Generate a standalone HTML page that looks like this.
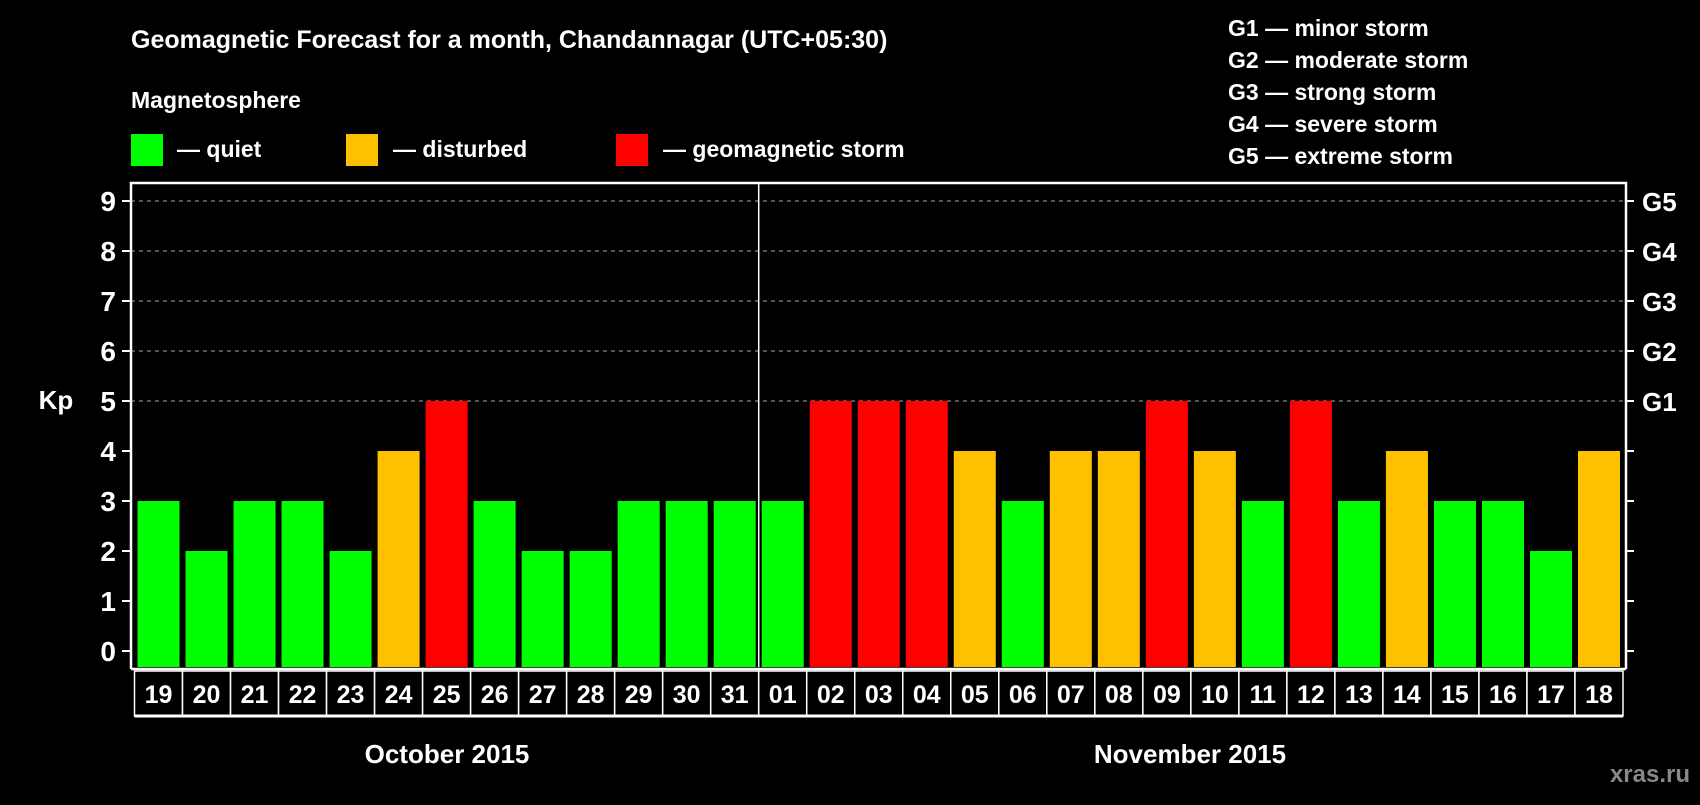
<!DOCTYPE html>
<html><head><meta charset="utf-8"><style>
body{margin:0;background:#000;width:1700px;height:800px;overflow:hidden}
svg text{font-family:"Liberation Sans",Arial,sans-serif;font-weight:bold;fill:#fff}
</style></head><body>
<svg id="c" width="1700" height="800" xmlns="http://www.w3.org/2000/svg">
<text x="131" y="48" font-size="25">Geomagnetic Forecast for a month, Chandannagar (UTC+05:30)</text>
<text x="131" y="108" font-size="23">Magnetosphere</text>
<rect x="131" y="134" width="32" height="32" fill="#00ff00"/>
<text x="177" y="157" font-size="23">— quiet</text>
<rect x="346" y="134" width="32" height="32" fill="#ffc000"/>
<text x="393" y="157" font-size="23">— disturbed</text>
<rect x="616" y="134" width="32" height="32" fill="#ff0000"/>
<text x="663" y="157" font-size="23">— geomagnetic storm</text>
<g font-size="23">
<text x="1228" y="36">G1 — minor storm</text>
<text x="1228" y="68">G2 — moderate storm</text>
<text x="1228" y="100">G3 — strong storm</text>
<text x="1228" y="132">G4 — severe storm</text>
<text x="1228" y="164">G5 — extreme storm</text>
</g>
<text x="56" y="409" font-size="26" text-anchor="middle">Kp</text>
<text x="447" y="763" font-size="26" text-anchor="middle">October 2015</text>
<text x="1190" y="763" font-size="26" text-anchor="middle">November 2015</text>
<text x="1690" y="782" font-size="24" text-anchor="end" style="fill:#888">xras.ru</text>
<g id="plot"></g>
</svg>
<script>
const days=["19","20","21","22","23","24","25","26","27","28","29","30","31","01","02","03","04","05","06","07","08","09","10","11","12","13","14","15","16","17","18"];
const kpValues=[3,2,3,3,2,4,5,3,2,2,3,3,3,3,5,5,5,4,3,4,4,5,4,3,5,3,4,3,3,2,4];
const yTicks=[0,1,2,3,4,5,6,7,8,9];
const gLabels=["G1","G2","G3","G4","G5"];
const NS="http://www.w3.org/2000/svg";
const L=131,R=1626,T=183,Z=651,U=50,B=667,slotStart=134.5;
const slotW=(1623-slotStart)/days.length;
const y=v=>Z-v*U, x=i=>slotStart+i*slotW;
const g=document.getElementById('plot');
function mk(t,a,p){const e=document.createElementNS(NS,t);for(const k in a)e.setAttribute(k,a[k]);(p||g).appendChild(e);return e;}
yTicks.forEach(v=>{
 if(v>=5){const l=mk('line',{x1:L,x2:R,y1:y(v),y2:y(v),stroke:'#888','stroke-width':1.2,'stroke-dasharray':'4 4'});
 
 }
 const t=mk('line',{x1:L-9,x2:L,y1:y(v),y2:y(v),stroke:'#fff','stroke-width':2});
 
 
 const rt=mk('line',{x1:R,x2:R+8,y1:y(v),y2:y(v),stroke:'#fff','stroke-width':2});
 
 
 const tx=mk('text',{x:116,y:y(v)+10,'font-size':28,'text-anchor':'end'});tx.textContent=v;
 
 
});
gLabels.forEach((s,i)=>{const t=mk('text',{x:1642,y:y(5+i)+10,'font-size':26});t.textContent=s;
 
 });
kpValues.forEach((v,i)=>{
 const col=v>=5?'#ff0000':v>=4?'#ffc000':'#00ff00';
 const r=mk('rect',{x:x(i)+3,y:y(v),width:slotW-6,height:B-y(v),fill:col});
 
 
 const c=mk('rect',{x:x(i),y:671,width:slotW,height:45,fill:'#000',stroke:'#fff','stroke-width':1.5});
 
 
 const t=mk('text',{x:x(i)+slotW/2,y:703,'font-size':25,'text-anchor':'middle'});t.textContent=days[i];
 
 
});
const fr=mk('path',{d:`M${L},${B+2} L${L},${T} L${R},${T} L${R},${B+2}`,fill:'none',stroke:'#fff','stroke-width':2.5});


const bl=mk('line',{x1:L,x2:R,y1:B+2,y2:B+2,stroke:'#fff','stroke-width':2.5});


const bb=mk('line',{x1:slotStart,x2:1623,y1:716,y2:716,stroke:'#fff','stroke-width':3});


const mi=days.indexOf("01");
const dv=mk('line',{x1:x(mi),x2:x(mi),y1:T,y2:B,stroke:'#fff','stroke-width':1.5});


</script>
</body></html>
